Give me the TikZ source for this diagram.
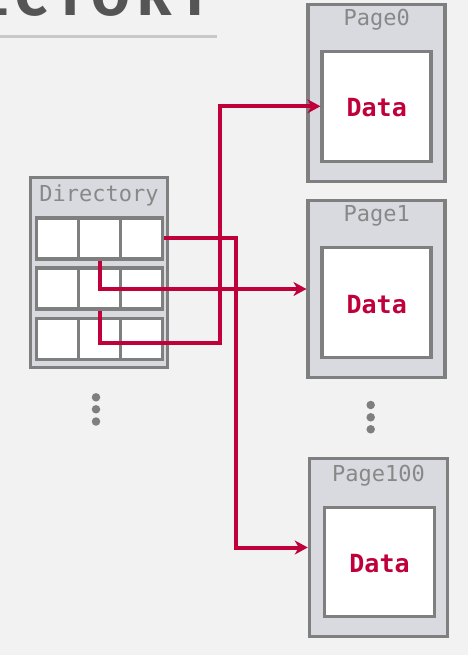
\documentclass[tikz,border=0pt]{standalone}
\usepackage{fontspec}
\setmainfont{Fira Sans}
\newfontfamily\monofnt{DejaVu Sans Mono}
\usetikzlibrary{arrows.meta}
\definecolor{bgc}{HTML}{F2F2F2}
\definecolor{bordc}{HTML}{7F7F7F}
\definecolor{boxc}{HTML}{D8DAE0}
\definecolor{redc}{HTML}{C0003A}
\definecolor{labc}{HTML}{888888}
\definecolor{titc}{HTML}{555555}
\definecolor{rulec}{HTML}{C8C8C8}
\tikzset{
  outerbox/.style={draw=bordc, fill=boxc, line width=3.5pt, rectangle, inner sep=0pt},
  cellbox/.style={draw=bordc, fill=white, line width=3.5pt, rectangle, inner sep=0pt, minimum width=42pt, minimum height=41pt},
  innerbox/.style={draw=bordc, fill=white, line width=3.5pt, rectangle, inner sep=0pt},
  lab/.style={font=\monofnt\fontsize{22}{24}\selectfont, text=labc, inner sep=0pt},
  datalab/.style={font=\monofnt\bfseries\fontsize{25}{27}\selectfont, text=redc, inner sep=0pt},
  link/.style={draw=redc, line width=4pt, -{Stealth[length=13pt,width=14pt,inset=4pt]}},
  dotc/.style={fill=bordc, draw=none, circle, minimum size=8.5pt, inner sep=0pt}
}
\begin{document}
\begin{tikzpicture}[x=1pt,y=-1pt]
\useasboundingbox (0,0) rectangle (468,655);
\clip (0,0) rectangle (468,655);
\fill[bgc] (0,0) rectangle (468,655);
% title
\node[anchor=base east, inner sep=0pt, text=titc, font=\fontsize{56}{58}\selectfont\bfseries\addfontfeature{LetterSpace=14}] (title) at (212,16) {DIRECTORY};
\draw[rulec, line width=3pt] (0,37) -- (217,37);
% directory
\node[outerbox, minimum width=137pt, minimum height=190pt] (dir) at (99,272.5) {};
\node[lab] (dirlab) at (99,195) {Directory};
\foreach \r/\yy in {1/238.3, 2/288.3, 3/339.2}{
  \node[cellbox] (c\r1) at (57.5,\yy) {};
  \node[cellbox] (c\r2) at (99.5,\yy) {};
  \node[cellbox] (c\r3) at (141.5,\yy) {};
}
% pages
\node[outerbox, minimum width=137pt, minimum height=177pt] (p0) at (376.7,93) {};
\node[lab] (p0lab) at (376.7,20) {Page0};
\node[innerbox, minimum width=109pt, minimum height=110pt] (in0) at (376.7,106.3) {};
\node[datalab] (d0) at (376.7,107.5) {Data};

\node[outerbox, minimum width=137pt, minimum height=177pt] (p1) at (376.7,289) {};
\node[lab] (p1lab) at (376.7,216) {Page1};
\node[innerbox, minimum width=109pt, minimum height=110pt] (in1) at (376.7,302.3) {};
\node[datalab] (d1) at (376.7,304.5) {Data};

\node[outerbox, minimum width=138pt, minimum height=178pt] (p100) at (378.5,547.5) {};
\node[lab] (p100lab) at (378.5,476) {Page100};
\node[innerbox, minimum width=110pt, minimum height=109pt] (in100) at (379.5,562) {};
\node[datalab] (d100) at (379.5,564) {Data};
% dots
\node[dotc] (da) at (96,397.3) {};
\node[dotc] (db) at (96,409.3) {};
\node[dotc] (dc) at (96,421.5) {};
\node[dotc] (pa) at (370.7,405) {};
\node[dotc] (pb) at (370.7,417.3) {};
\node[dotc] (pc) at (370.7,429.3) {};
% links
\coordinate (bendA) at (236,238.3);
\coordinate (bendC) at (220,343);
\draw[link] (c13.east) -- (bendA) |- (p100.west);
\draw[link] (c12.south) |- (p1.west);
\draw[link] (c22.south) |- (bendC) |- (in0.west);
\end{tikzpicture}
\end{document}
